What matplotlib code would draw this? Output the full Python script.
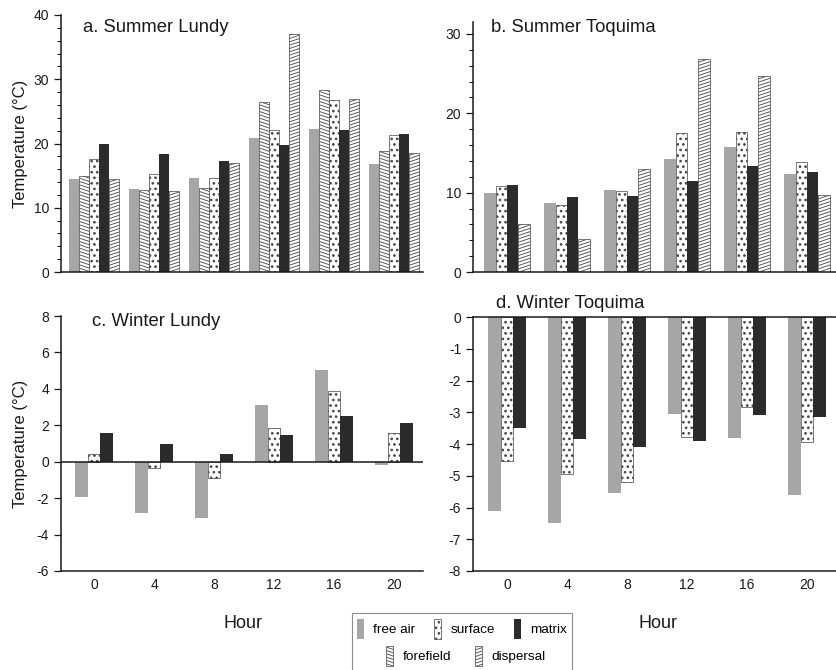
import numpy as np
import matplotlib
matplotlib.use('Agg')
import matplotlib.pyplot as plt
import matplotlib.hatch as mhatch
from matplotlib.path import Path
from matplotlib.patches import Rectangle
from matplotlib.ticker import MultipleLocator

plt.rcParams['font.family'] = ['Liberation Sans', 'DejaVu Sans']
plt.rcParams['axes.unicode_minus'] = False
plt.rcParams['hatch.linewidth'] = 0.6

#############################################################################################################
# Data

hours = ['0', '4', '8', '12', '16', '20']

# a. Summer Lundy
sl_free_air  = [14.4, 12.9, 14.6, 20.8, 22.2, 16.8]
sl_forefield = [14.9, 12.7, 13.0, 26.4, 28.4, 18.9]
sl_surface   = [17.6, 15.2, 14.7, 22.1, 26.8, 21.3]
sl_matrix    = [20.0, 18.4, 17.2, 19.7, 22.1, 21.5]
sl_dispersal = [14.5, 12.6, 17.0, 37.0, 27.0, 18.5]

# b. Summer Toquima
st_free_air  = [9.9, 8.7, 10.3, 14.2, 15.7, 12.3]
st_surface   = [10.8, 8.4, 10.2, 17.5, 17.7, 13.9]
st_matrix    = [11.0, 9.5, 9.6, 11.5, 13.4, 12.6]
st_dispersal = [6.0, 4.1, 13.0, 26.8, 24.7, 9.7]

# c. Winter Lundy
wl_free_air = [-1.95, -2.8, -3.1, 3.1, 5.03, -0.18]
wl_surface  = [0.44, -0.35, -0.88, 1.84, 3.87, 1.6]
wl_matrix   = [1.6, 0.98, 0.41, 1.47, 2.53, 2.12]

# d. Winter Toquima
wt_free_air = [-6.1, -6.5, -5.54, -3.05, -3.81, -5.61]
wt_surface  = [-4.53, -4.95, -5.21, -3.79, -2.84, -3.95]
wt_matrix   = [-3.49, -3.84, -4.1, -3.89, -3.08, -3.16]

#############################################################################################################
# Shallow diagonal hatches (the original uses near-horizontal slanted lines)

class ShallowHatch(mhatch.HatchPatternBase):
    char = '/'
    sign = 1
    steps = 10  # rise over one tile, in line spacings

    def __init__(self, hatch, density):
        self.num_lines = int(hatch.count(self.char) * density)
        self.num_vertices = 2 * (self.num_lines + self.steps + 1) if self.num_lines else 0

    def set_vertices_and_codes(self, vertices, codes):
        n = self.num_lines
        d = 1.0 / n
        s = self.steps * d
        starts = np.arange(n + self.steps + 1) * d - s + d / 2
        if self.sign > 0:
            y0, y1 = starts, starts + s
        else:
            y0, y1 = starts + s, starts
        vertices[0::2, 0] = 0.0
        vertices[0::2, 1] = y0
        vertices[1::2, 0] = 1.0
        vertices[1::2, 1] = y1
        codes[0::2] = Path.MOVETO
        codes[1::2] = Path.LINETO


class ShallowUp(ShallowHatch):
    char = '/'
    sign = 1


class ShallowDown(ShallowHatch):
    char = '\\'
    sign = -1


if hasattr(mhatch, '_hatch_types'):
    ht = mhatch._hatch_types
    ht[ht.index(mhatch.NorthEastHatch)] = ShallowUp
    ht[ht.index(mhatch.SouthEastHatch)] = ShallowDown
mhatch.SmallFilledCircles.size = 0.16

GRAY = '#a6a6a8'
DARK = '#2b2b2b'
HATCH = '#444444'
styles = {
    'free air':  dict(facecolor=GRAY, edgecolor=GRAY, linewidth=0),
    'forefield': dict(facecolor='white', edgecolor=HATCH, hatch='\\\\\\\\\\', linewidth=0.5),
    'surface':   dict(facecolor='white', edgecolor=HATCH, hatch='...', linewidth=0.5),
    'matrix':    dict(facecolor=DARK, edgecolor=DARK, linewidth=0),
    'dispersal': dict(facecolor='white', edgecolor=HATCH, hatch='/////', linewidth=0.5),
}

#############################################################################################################

W, H = 837, 670
fig = plt.figure(figsize=(W / 100, H / 100), dpi=100)


def px_axes(l, t, r, b):
    return fig.add_axes([l / W, 1 - b / H, (r - l) / W, (b - t) / H])


def draw_groups(ax, series, width):
    x = np.arange(len(hours))
    nb = len(series)
    bars = {}
    for i, (name, vals) in enumerate(series):
        off = (i - (nb - 1) / 2) * width
        bars[name] = ax.bar(x + off, vals, width, label=name, **styles[name])
    return bars


def style_axes(ax):
    for side in ['top', 'right', 'left', 'bottom']:
        ax.spines[side].set_linewidth(1.1)
        ax.spines[side].set_color('#1a1a1a')
    ax.spines['right'].set_visible(False)
    ax.tick_params(axis='y', which='major', direction='out', length=5, width=0.9,
                   labelsize=10, pad=3.5, colors='#1a1a1a')
    ax.tick_params(axis='y', which='minor', direction='out', length=3, width=0.8, colors='#1a1a1a')


ax_a = px_axes(61, 15, 423, 272)
ax_b = px_axes(473, 22, 837, 272)
ax_c = px_axes(61, 316, 423, 571)
ax_d = px_axes(473, 317, 837, 571)

# a. Summer Lundy
bars_a = draw_groups(ax_a, [('free air', sl_free_air), ('forefield', sl_forefield), ('surface', sl_surface),
                            ('matrix', sl_matrix), ('dispersal', sl_dispersal)], 0.165)
ax_a.set_xlim(-0.55, 5.48)
ax_a.set_ylim(0, 40)
ax_a.set_yticks([0, 10, 20, 30, 40])
ax_a.yaxis.set_minor_locator(MultipleLocator(2))

# b. Summer Toquima
bars_b = draw_groups(ax_b, [('free air', st_free_air), ('surface', st_surface),
                            ('matrix', st_matrix), ('dispersal', st_dispersal)], 0.19)
ax_b.set_xlim(-0.567, 5.5)
ax_b.set_ylim(0, 31.5)
ax_b.set_yticks([0, 10, 20, 30])
ax_b.yaxis.set_minor_locator(MultipleLocator(2))

# c. Winter Lundy
draw_groups(ax_c, [('free air', wl_free_air), ('surface', wl_surface), ('matrix', wl_matrix)], 0.21)
ax_c.set_xlim(-0.55, 5.48)
ax_c.set_ylim(-6, 8)
ax_c.set_yticks(range(-6, 9, 2))
ax_c.axhline(0, color='#1a1a1a', linewidth=1.1)

# d. Winter Toquima
draw_groups(ax_d, [('free air', wt_free_air), ('surface', wt_surface), ('matrix', wt_matrix)], 0.21)
ax_d.set_xlim(-0.567, 5.5)
ax_d.set_ylim(-8, 0)
ax_d.set_yticks(range(-8, 1))

for ax in [ax_a, ax_b, ax_c, ax_d]:
    style_axes(ax)

for ax in [ax_a, ax_b]:
    ax.spines['top'].set_visible(False)
    ax.tick_params(axis='x', bottom=False, labelbottom=False)

ax_c.spines['top'].set_visible(False)
for ax in [ax_c, ax_d]:
    ax.set_xticks(np.arange(len(hours)))
    ax.set_xticklabels(hours)
    ax.tick_params(axis='x', length=0, pad=5, labelsize=10, colors='#1a1a1a')

# panel titles
TITLE_FS = 13.3
ax_a.text(0.061, 0.953, 'a. Summer Lundy', transform=ax_a.transAxes, fontsize=TITLE_FS, va='center', color='#1a1a1a')
ax_b.text(0.049, 0.98, 'b. Summer Toquima', transform=ax_b.transAxes, fontsize=TITLE_FS, va='center', color='#1a1a1a')
ax_c.text(0.086, 0.98, 'c. Winter Lundy', transform=ax_c.transAxes, fontsize=TITLE_FS, va='center', color='#1a1a1a')
ax_d.text(0.063, 1.055, 'd. Winter Toquima', transform=ax_d.transAxes, fontsize=TITLE_FS, va='center', color='#1a1a1a')

# axis labels
for ax in [ax_a, ax_c]:
    ax.set_ylabel('Temperature (°C)', fontsize=12, color='#1a1a1a')
    ax.yaxis.set_label_coords(-0.09, 0.5)
ax_c.text(0.503, -0.204, 'Hour', transform=ax_c.transAxes, fontsize=13, ha='center', va='center', color='#1a1a1a')
ax_d.text(0.508, -0.205, 'Hour', transform=ax_d.transAxes, fontsize=13, ha='center', va='center', color='#1a1a1a')

# legend, two centred rows inside one box
leg_kw = dict(loc='upper center', frameon=False, fontsize=9.7, handlelength=0.5, handleheight=1.9,
              handletextpad=0.7, borderpad=0, borderaxespad=0)
fig.legend([bars_a['free air'], bars_a['surface'], bars_a['matrix']], ['free air', 'surface', 'matrix'],
           ncol=3, columnspacing=1.4, bbox_to_anchor=(462 / W, 1 - 619 / H), **leg_kw)
fig.legend([bars_a['forefield'], bars_a['dispersal']], ['forefield', 'dispersal'],
           ncol=2, columnspacing=1.8, bbox_to_anchor=(466 / W, 1 - 646 / H), **leg_kw)
fig.add_artist(Rectangle((352 / W, 1 - 672 / H), 220 / W, 59 / H, transform=fig.transFigure,
                         fill=False, edgecolor='#8c8c8c', linewidth=0.8, clip_on=False))

plt.savefig('out.png', dpi=100)
plt.close()
